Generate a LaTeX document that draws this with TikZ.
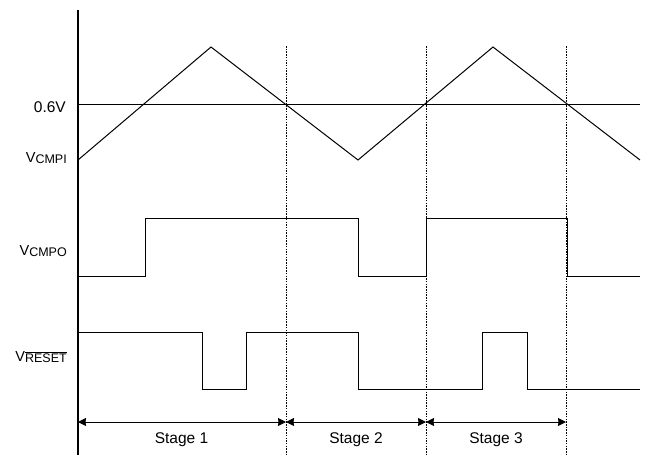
\documentclass[tikz,border=0pt]{standalone}
\usepackage{fontspec}
\setmainfont{Liberation Sans}
\usetikzlibrary{arrows.meta}
\newcommand{\subtxt}[1]{\raisebox{-1.8pt}{\fontsize{12.5}{12.5}\selectfont #1}}
\begin{document}
\begin{tikzpicture}[x=1pt,y=-1pt,
  sig/.style={line width=1pt,line join=miter},
  axisline/.style={line width=1.2pt},
  guide/.style={line width=1pt,dash pattern=on 1.5pt off 1.2pt},
  dim/.style={line width=1pt,{Stealth[length=8pt,width=8pt,inset=0.5pt]}-{Stealth[length=8pt,width=8pt,inset=0.5pt]}},
  lbl/.style={anchor=base east,inner sep=0pt,font=\fontsize{14.5}{14.5}\selectfont},
  stg/.style={anchor=base,inner sep=0pt,font=\fontsize{15.5}{15.5}\selectfont}]
\useasboundingbox (0,0) rectangle (647,455);
% axis
\coordinate (axtop) at (78,10);
\coordinate (axbot) at (78,455);
\draw[axisline] (axtop) -- (axbot);
% guides
\foreach \n/\x in {a/286,b/426,c/566}{
  \coordinate (g\n top) at (\x,46);
  \coordinate (g\n bot) at (\x,455);
  \draw[guide] (g\n top) -- (g\n bot);
}
% 0.6V reference
\draw[sig] (78,104) -- (640,104);
% triangle wave
\draw[sig] (78,160) -- (211,47) -- (358,160) -- (493,47) -- (640,160);
% CMPO
\draw[sig] (78,276) -- (145,276) -- (145,218) -- (358,218) -- (358,276) -- (426,276)
  -- (426,218) -- (567,218) -- (567,276) -- (640,276);
% RESET
\draw[sig] (78,332) -- (202,332) -- (202,389) -- (246,389) -- (246,332) -- (358,332)
  -- (358,389) -- (482,389) -- (482,332) -- (527,332) -- (527,389) -- (640,389);
% labels
\node[lbl,font=\fontsize{15.5}{15.5}\selectfont] (l06) at (66,112) {0.6V};
\node[lbl] (lcmpi) at (67,162) {V\subtxt{CMPI}};
\node[lbl] (lcmpo) at (67,255) {V\subtxt{CMPO}};
\node[lbl] (lrst) at (67,361) {V\subtxt{$\overline{\hbox{RESET}}$}};
% stage arrows
\coordinate (s0) at (78,422);
\coordinate (s1) at (286,422);
\coordinate (s2) at (426,422);
\coordinate (s3) at (566,422);
\draw[dim] (s0) -- (s1);
\draw[dim] (s1) -- (s2);
\draw[dim] (s2) -- (s3);
\node[stg] (t1) at (181.5,443.3) {Stage 1};
\node[stg] (t2) at (356,443.3) {Stage 2};
\node[stg] (t3) at (496,443.3) {Stage 3};
\end{tikzpicture}
\end{document}
